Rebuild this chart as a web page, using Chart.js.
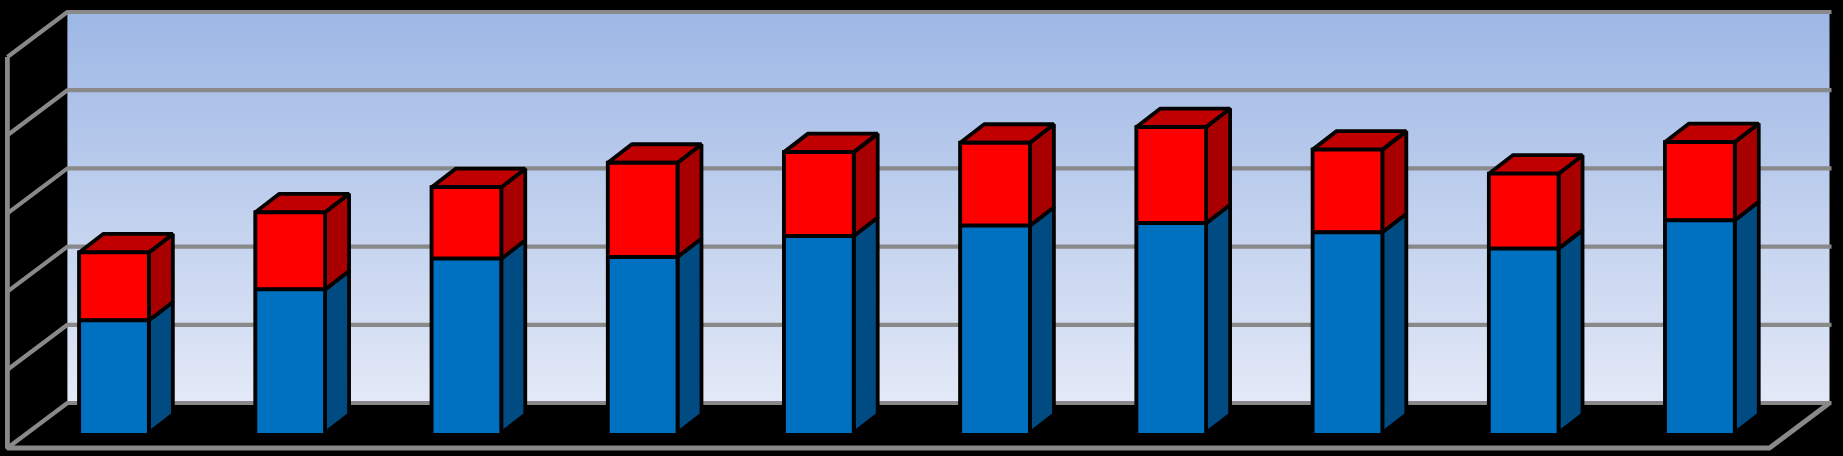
<!DOCTYPE html>
<html>
<head>
<meta charset="utf-8">
<style>html,body{margin:0;padding:0;background:#000;overflow:hidden}canvas{display:block}</style>
<script src="https://cdn.jsdelivr.net/npm/chart.js@4"></script>
</head>
<body>
<canvas id="c" width="1843" height="456"></canvas>
<script>
const categories = ['1','2','3','4','5','6','7','8','9','10'];
const blueValues = [73.2,93.0,112.7,113.7,127.1,133.8,135.4,129.5,119.1,137.2];
const redValues  = [43.5,49.3,45.7,60.3,53.7,53.0,61.4,52.9,47.9,50.0];
const axisMax = 250, axisStep = 50;

const barDepthX = 24, barDepthY = -18.5;
const backX = 41.5, backY = -30, frontX = -18.5, frontY = 15;
const GRID = '#898989', EDGE = '#000', BW = 3.8;

function poly(ctx, pts, fill){
  ctx.beginPath();
  pts.forEach((p,i)=> i ? ctx.lineTo(p[0],p[1]) : ctx.moveTo(p[0],p[1]));
  ctx.closePath();
  ctx.fillStyle = fill; ctx.fill();
  ctx.lineWidth = BW; ctx.strokeStyle = EDGE; ctx.lineJoin = 'bevel'; ctx.stroke();
}

const scene = {
  id:'scene',
  beforeDatasetsDraw(chart){
    const ctx = chart.ctx, xs = chart.scales.x, ys = chart.scales.y;
    const wl = xs.left+backX, wr = xs.right+backX, fl = xs.left+frontX, fr = xs.right+frontX;
    const wt = ys.getPixelForValue(axisMax)+backY, wb = ys.getPixelForValue(0)+backY;
    ctx.save();
    // back wall
    const g = ctx.createLinearGradient(0,wt,0,wb);
    g.addColorStop(0,'#9DB7E5'); g.addColorStop(1,'#E3E9F7');
    ctx.fillStyle = g; ctx.fillRect(wl,wt,wr-wl,wb-wt);
    // grid lines
    ctx.strokeStyle = GRID; ctx.lineWidth = 4.2; ctx.lineCap='butt'; ctx.lineJoin='bevel';
    ys.ticks.forEach(t=>{
      const y = ys.getPixelForValue(t.value);
      ctx.beginPath();
      ctx.moveTo(fl, y+frontY); ctx.lineTo(wl, y+backY); ctx.lineTo(wr+2, y+backY);
      ctx.stroke();
    });
    // left wall front edge, floor front edge, floor right edge
    ctx.lineWidth = 4.8;
    ctx.beginPath();
    ctx.moveTo(fl, ys.getPixelForValue(axisMax)+frontY);
    ctx.lineTo(fl, ys.getPixelForValue(0)+frontY);
    ctx.lineTo(fr, ys.getPixelForValue(0)+frontY);
    ctx.lineTo(wr, ys.getPixelForValue(0)+backY);
    ctx.stroke();
    // bar depth faces and a black backing behind the front faces
    const blue = chart.getDatasetMeta(0).data, red = chart.getDatasetMeta(1).data;
    blue.forEach((b,i)=>{
      const r = red[i], R = b.x+b.width/2-BW/2, L = b.x-b.width/2+BW/2;
      const base = b.base, mid = b.y+BW/2, top = r.y+BW/2;
      poly(ctx,[[R,base],[R+barDepthX,base+barDepthY],[R+barDepthX,mid+barDepthY],[R,mid]],'#004B82');
      poly(ctx,[[R,mid],[R+barDepthX,mid+barDepthY],[R+barDepthX,top+barDepthY],[R,top]],'#A80000');
      poly(ctx,[[L,top],[L+barDepthX,top+barDepthY],[R+barDepthX,top+barDepthY],[R,top]],'#C00000');
      ctx.fillStyle = EDGE;
      ctx.fillRect(b.x-b.width/2, r.y, b.width, base-r.y);
    });
    ctx.restore();
  }
};

new Chart(document.getElementById('c'),{
  type:'bar',
  data:{labels:categories,datasets:[
    {label:'Blue',data:blueValues,backgroundColor:'#0070C0',borderColor:EDGE,borderWidth:BW,borderSkipped:'start',stack:'s'},
    {label:'Red',data:redValues,backgroundColor:'#FF0000',borderColor:EDGE,borderWidth:BW,borderSkipped:'start',stack:'s'}
  ]},
  plugins:[scene],
  options:{
    responsive:false,animation:false,
    layout:{padding:{left:25.9,right:55,top:42,bottom:23}},
    barPercentage:0.417,categoryPercentage:1,
    plugins:{legend:{display:false},tooltip:{enabled:false},title:{display:false}},
    scales:{
      x:{stacked:true,display:false},
      y:{stacked:true,display:false,min:0,max:axisMax,ticks:{stepSize:axisStep}}
    }
  }
});
</script>
</body>
</html>
